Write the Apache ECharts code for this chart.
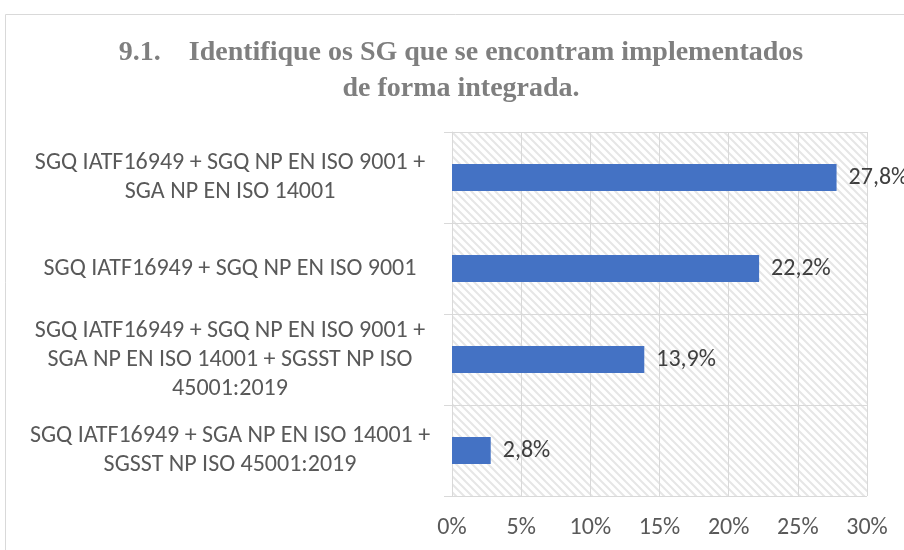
<!DOCTYPE html>
<html lang="pt">
<head>
    <meta charset="UTF-8">
    <title>9.1. Identifique os SG</title>
    <style>
        html, body { margin: 0; padding: 0; background: #fff; }
        #chart { width: 904px; height: 550px; }
    </style>
    <script src="https://cdn.jsdelivr.net/npm/echarts@6.0.0/dist/echarts.min.js"></script>
</head>
<body>
    <div id="chart"></div>

    <script type="text/javascript">
        // categorias de cima para baixo
        var categorias = [
            'SGQ IATF16949 + SGQ NP EN ISO 9001 +\nSGA NP EN ISO 14001',
            'SGQ IATF16949 + SGQ NP EN ISO 9001',
            'SGQ IATF16949 + SGQ NP EN ISO 9001 +\nSGA NP EN ISO 14001 + SGSST NP ISO\n45001:2019',
            'SGQ IATF16949 + SGA NP EN ISO 14001 +\nSGSST NP ISO 45001:2019'
        ];
        var valores = [27.8, 22.2, 13.9, 2.8];

        // fundo tracejado (diagonal descendente)
        function hatch() {
            var n = 8;
            var c = document.createElement('canvas');
            c.width = n; c.height = n;
            var ctx = c.getContext('2d');
            ctx.fillStyle = '#ffffff';
            ctx.fillRect(0, 0, n, n);
            ctx.strokeStyle = '#e6e6e6';
            ctx.lineWidth = 2;
            ctx.beginPath();
            ctx.moveTo(-2, -2); ctx.lineTo(n + 2, n + 2);
            ctx.moveTo(-n - 2, -2); ctx.lineTo(2, n + 2);
            ctx.moveTo(n - 2, -2); ctx.lineTo(2 * n + 2, n + 2);
            ctx.stroke();
            return c;
        }

        var font = 'Carlito, "Liberation Sans", sans-serif';
        var myChart = echarts.init(document.getElementById('chart'));
        var option = {
            animation: false,
            title: {
                text: '9.1.    Identifique os SG que se encontram implementados\nde forma integrada.',
                left: 456,
                top: 30,
                textAlign: 'center',
                textStyle: {
                    fontFamily: '"Liberation Serif", serif',
                    fontWeight: 'bold',
                    fontSize: 28,
                    lineHeight: 36,
                    color: '#7f7f7f'
                }
            },
            graphic: [{
                type: 'rect',
                shape: { x: 5.5, y: 14.5, width: 1000, height: 1000 },
                style: { fill: 'none', stroke: '#d9d9d9', lineWidth: 1 },
                silent: true
            }],
            grid: {
                left: 452,
                right: 37,
                top: 132,
                bottom: 54,
                show: true,
                borderWidth: 0,
                backgroundColor: { image: hatch(), repeat: 'repeat' }
            },
            xAxis: {
                type: 'value',
                min: 0,
                max: 30,
                interval: 5,
                axisLine: { show: false },
                axisTick: { show: false },
                axisLabel: {
                    formatter: '{value}%',
                    margin: 20,
                    color: '#595959',
                    fontSize: 24,
                    fontFamily: font
                },
                splitLine: { lineStyle: { color: '#d9d9d9', width: 1 } }
            },
            yAxis: {
                type: 'category',
                data: categorias,
                inverse: true,
                axisLine: { lineStyle: { color: '#d9d9d9' } },
                axisTick: { show: true, length: 8, lineStyle: { color: '#d9d9d9' } },
                splitLine: { show: true, lineStyle: { color: '#d9d9d9' } },
                axisLabel: {
                    align: 'center',
                    margin: 222,
                    padding: [5, 0, 0, 0],
                    color: '#595959',
                    fontSize: 24,
                    lineHeight: 29,
                    fontFamily: font
                }
            },
            series: [{
                type: 'bar',
                data: valores,
                barWidth: 27,
                itemStyle: { color: '#4472c4' },
                label: {
                    show: true,
                    position: 'right',
                    distance: 12,
                    color: '#404040',
                    fontSize: 24,
                    fontFamily: font,
                    formatter: function (p) {
                        return p.value.toFixed(1).replace('.', ',') + '%';
                    }
                }
            }]
        };
        myChart.setOption(option);
    </script>
</body>
</html>
